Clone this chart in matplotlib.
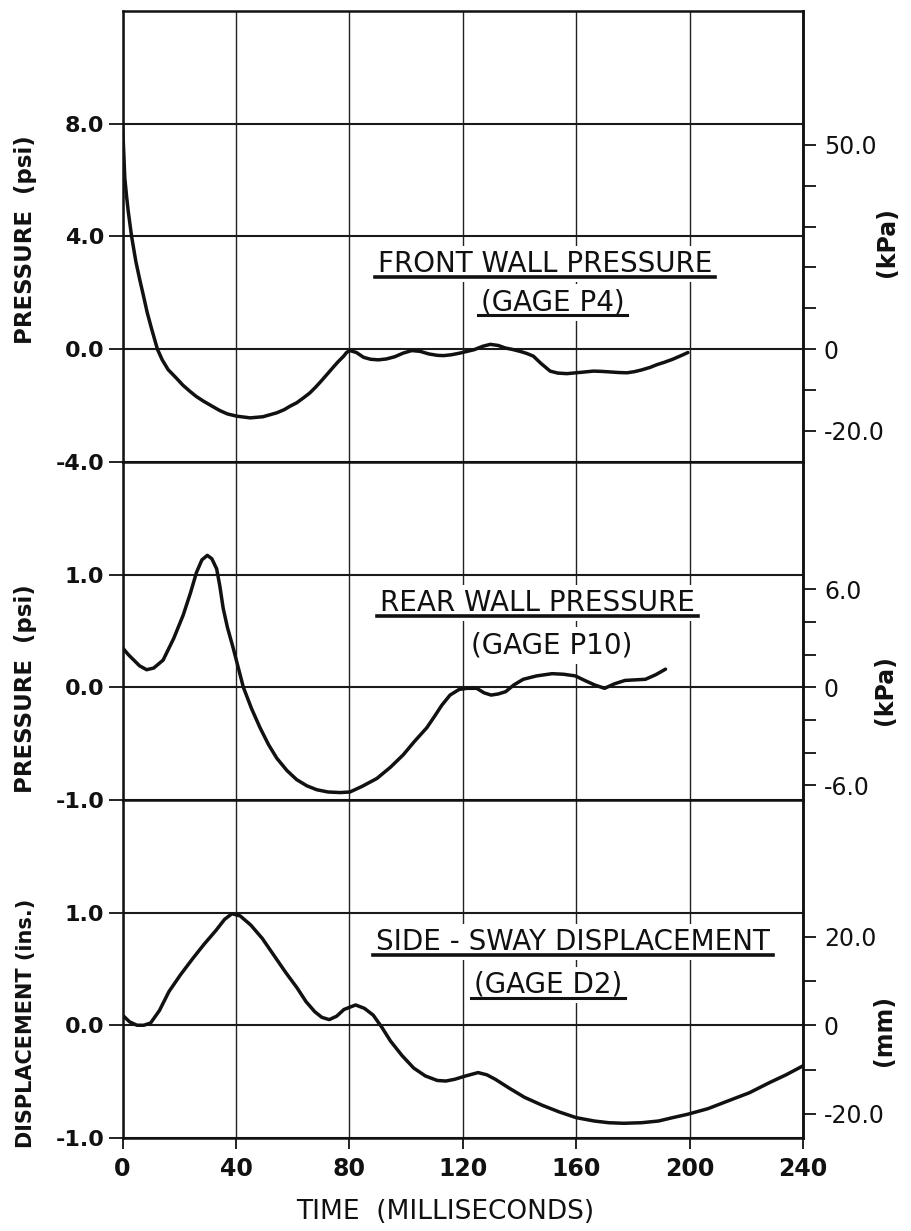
import numpy as np
import matplotlib
matplotlib.use("Agg")
from matplotlib import pyplot as plt
from matplotlib.lines import Line2D

# front wall pressure, gage P4 (psi)
t_front = [0, 0.8, 1.4, 2.0, 3.2, 4.7, 6.0, 7.3, 8.7, 10.2, 12.3, 14.0, 16.1, 19.0, 21.3, 23.8,
           26.0, 28.6, 31.5, 34.3, 37.0, 40.3, 45.0, 49.5, 54.4, 57.0, 59.0, 61.5, 63.8, 66.0,
           68.0, 70.0, 72.0, 74.5, 76.0, 77.9, 79.0, 80.2, 82.5, 85.0, 87.5, 90.2, 93.0, 96.0,
           99.0, 102.0, 105.0, 108.0, 111.0, 113.2, 116.0, 119.0, 121.5, 124.0, 127.0, 129.7,
           132.5, 135.0, 137.5, 140.2, 142.5, 144.9, 147.5, 150.8, 153.5, 156.7, 161.0, 166.1,
           169.0, 172.0, 175.0, 177.9, 180.5, 183.0, 186.0, 188.5, 191.0, 194.0, 197.0, 199.4]
p_front = [8.0, 6.08, 5.45, 4.9, 4.0, 3.11, 2.5, 1.93, 1.3, 0.74, 0.0, -0.38, -0.73, -1.03, -1.28, -1.5,
           -1.68, -1.85, -2.02, -2.18, -2.3, -2.38, -2.44, -2.4, -2.26, -2.15, -2.03, -1.9, -1.73, -1.56,
           -1.36, -1.14, -0.91, -0.62, -0.45, -0.26, -0.12, -0.05, -0.12, -0.29, -0.36, -0.38, -0.35, -0.27,
           -0.14, -0.05, -0.08, -0.17, -0.22, -0.23, -0.2, -0.14, -0.08, -0.02, 0.1, 0.17,
           0.13, 0.04, -0.01, -0.08, -0.15, -0.25, -0.5, -0.78, -0.85, -0.87, -0.83, -0.78,
           -0.79, -0.81, -0.83, -0.84, -0.8, -0.74, -0.65, -0.55, -0.47, -0.36, -0.23, -0.12]

# rear wall pressure, gage P10 (psi)
t_rear = [0, 2, 4, 6, 8.5, 11, 14.3, 18, 21.4, 24, 26.1, 28, 29.9, 31.5, 33.2, 34.3, 35.5, 37, 39,
          42.6, 45.5, 48.5, 51.5, 54.4, 58, 61.4, 65, 68.5, 72.5, 76.7, 80.2, 84.5, 89.7, 94.5, 99,
          103, 107.3, 110, 112.6, 115.5, 118.7, 121.5, 124.9, 127.5, 130, 132.5, 135.1, 138, 141.3,
          146, 151.5, 155.5, 159.7, 163, 166.5, 170, 173.5, 177.2, 184.4, 188, 191.5]
p_rear = [0.35, 0.29, 0.24, 0.19, 0.155, 0.17, 0.24, 0.43, 0.64, 0.84, 1.02, 1.13, 1.17, 1.14, 1.05, 0.9, 0.7, 0.53, 0.35,
          0.0, -0.19, -0.36, -0.51, -0.63, -0.74, -0.82, -0.875, -0.91, -0.93, -0.935, -0.93, -0.88, -0.81, -0.71, -0.6,
          -0.48, -0.36, -0.26, -0.16, -0.07, -0.02, -0.01, -0.01, -0.05, -0.07, -0.06, -0.04, 0.02, 0.07,
          0.1, 0.12, 0.115, 0.1, 0.06, 0.02, -0.01, 0.03, 0.06, 0.07, 0.11, 0.16]

# side-sway displacement, gage D2 (in.)
t_disp = [0, 2.5, 5.1, 7.5, 9.9, 13, 16.4, 20.5, 24.7, 28.8, 32.9, 36, 38.6, 41.5, 45.2, 49.3, 53.4,
          57.5, 61.6, 64.7, 67.8, 70.3, 72.9, 75.5, 78.1, 82.2, 85.3, 88.4, 91.5, 94.5, 98.6, 102.7,
          106.8, 111, 114, 117.1, 121, 125.4, 128.5, 131.5, 136.5, 141.8, 148, 154.1, 160, 166.4,
          171.5, 176.7, 183, 189, 194, 199.3, 206.5, 213.7, 221, 228.1, 234, 240]
d_disp = [0.09, 0.03, 0.0, 0.0, 0.02, 0.13, 0.3, 0.45, 0.59, 0.72, 0.84, 0.94, 0.99, 0.97, 0.89, 0.77, 0.62,
          0.47, 0.33, 0.21, 0.12, 0.07, 0.05, 0.08, 0.14, 0.18, 0.15, 0.09, -0.02, -0.14, -0.27, -0.38,
          -0.45, -0.49, -0.495, -0.48, -0.45, -0.42, -0.44, -0.48, -0.56, -0.64, -0.71, -0.77, -0.82, -0.85,
          -0.865, -0.87, -0.865, -0.85, -0.82, -0.79, -0.74, -0.67, -0.6, -0.51, -0.44, -0.36]

x_ticks = [0, 40, 80, 120, 160, 200, 240]
x_labels = ["0", "40", "80", "120", "160", "200", "240"]

panels = [
    dict(t=t_front, v=p_front, ylim=(-4, 12), yt=[8, 4, 0, -4], ytl=["8.0", "4.0", "0.0", "-4.0"],
         factor=6.895, rt=[50, 0, -20], rtl=["50.0", "0", "-20.0"], rminor=np.arange(-20, 51, 10),
         title="FRONT WALL PRESSURE", title_xy=(149, 3.02), gage="(GAGE P4)", gage_xy=(151.7, 1.66),
         gage_ul=True, lylab="PRESSURE  (psi)", rylab="(kPa)"),
    dict(t=t_rear, v=p_rear, ylim=(-1, 2), yt=[1, 0, -1], ytl=["1.0", "0.0", "-1.0"],
         factor=6.895, rt=[6, 0, -6], rtl=["6.0", "0", "-6.0"], rminor=np.arange(-6, 7, 2),
         title="REAR WALL PRESSURE", title_xy=(146.5, 0.75), gage="(GAGE P10)", gage_xy=(151.3, 0.37),
         gage_ul=False, lylab="PRESSURE  (psi)", rylab="(kPa)"),
    dict(t=t_disp, v=d_disp, ylim=(-1, 2), yt=[1, 0, -1], ytl=["1.0", "0.0", "-1.0"],
         factor=25.4, rt=[20, 0, -20], rtl=["20.0", "0", "-20.0"], rminor=np.arange(-20, 21, 10),
         title="SIDE - SWAY DISPLACEMENT", title_xy=(158.9, 0.74), gage="(GAGE D2)", gage_xy=(150, 0.36),
         gage_ul=True, lylab="DISPLACEMENT (ins.)", rylab="(mm)"),
]

ink = "#111111"
fig, axes = plt.subplots(3, 1, figsize=(9.11, 12.31), dpi=100, sharex=True,
                         gridspec_kw={"height_ratios": [4, 3, 3], "hspace": 0})
fig.subplots_adjust(left=0.1345, right=0.8815, top=0.991, bottom=0.0756)

underlines = []
for ax, p in zip(axes, panels):
    ax.plot(p["t"], p["v"], color=ink, lw=2.5, zorder=3,
            solid_capstyle="round", solid_joinstyle="round")
    ax.set_xlim(0, 240)
    ax.set_ylim(*p["ylim"])
    ax.set_xticks(x_ticks)
    ax.set_yticks(p["yt"], p["ytl"], fontsize=16, fontweight="bold")
    ax.xaxis.grid(True, color="#222222", lw=1.0)
    ax.yaxis.grid(True, color="#1a1a1a", lw=1.5)
    ax.tick_params(axis="y", direction="out", length=10, width=1.3, pad=3, colors=ink)
    ax.tick_params(axis="x", bottom=False, labelbottom=False)
    for s in ax.spines.values():
        s.set_linewidth(1.8)
        s.set_color(ink)

    ax2 = ax.twinx()
    lo, hi = p["ylim"]
    ax2.set_ylim(lo * p["factor"], hi * p["factor"])
    ax2.set_yticks(p["rt"], p["rtl"], fontsize=17)
    ax2.set_yticks(p["rminor"], minor=True)
    ax2.tick_params(axis="y", which="both", direction="out", length=9, width=1.3, pad=6, colors=ink)
    for name, s in ax2.spines.items():
        s.set_visible(name == "right")
        s.set_linewidth(1.8)
        s.set_color(ink)

    box = dict(facecolor="white", edgecolor="none", pad=3)
    t1 = ax.text(*p["title_xy"], p["title"], ha="center", va="center", fontsize=20,
                 color=ink, bbox=box, zorder=5)
    t2 = ax.text(*p["gage_xy"], p["gage"], ha="center", va="center", fontsize=20,
                 color=ink, bbox=box, zorder=5)
    underlines.append((ax, t1, 2.6))
    if p["gage_ul"]:
        underlines.append((ax, t2, 2.2))

axes[2].set_xticks(x_ticks, x_labels, fontsize=17, fontweight="bold")
axes[2].tick_params(axis="x", bottom=True, labelbottom=True, direction="out",
                    length=8, width=1.3, pad=6, colors=ink)

# axis titles
H = 1231.0
W = 911.0
fig.text(26 / W, 1 - 240 / H, panels[0]["lylab"], rotation=90, ha="center", va="center",
         fontsize=16.5, fontweight="bold", color=ink)
fig.text(26 / W, 1 - 689 / H, panels[1]["lylab"], rotation=90, ha="center", va="center",
         fontsize=16.5, fontweight="bold", color=ink)
fig.text(26 / W, 1 - 1023 / H, panels[2]["lylab"], rotation=90, ha="center", va="center",
         fontsize=15, fontweight="bold", color=ink)
fig.text(887 / W, 1 - 242 / H, panels[0]["rylab"], rotation=90, ha="center", va="center",
         fontsize=17, fontweight="bold", color=ink)
fig.text(885 / W, 1 - 690 / H, panels[1]["rylab"], rotation=90, ha="center", va="center",
         fontsize=17, fontweight="bold", color=ink)
fig.text(884 / W, 1 - 1030 / H, panels[2]["rylab"], rotation=90, ha="center", va="center",
         fontsize=17, fontweight="bold", color=ink)
fig.text(445 / W, 1 - 1212 / H, "TIME  (MILLISECONDS)", ha="center", va="center",
         fontsize=19, color=ink)

# underline the panel captions
fig.canvas.draw()
renderer = fig.canvas.get_renderer()
for ax, txt, lw in underlines:
    bb = txt.get_window_extent(renderer=renderer)
    inv = ax.transAxes.inverted()
    (x0, y0), (x1, _) = inv.transform([[bb.x0 - 3, bb.y0 + 1], [bb.x1 + 3, bb.y1]])
    ax.add_line(Line2D([x0, x1], [y0, y0], transform=ax.transAxes, color=ink,
                       lw=lw, zorder=6, clip_on=False))

fig.savefig("out.png", dpi=100)
